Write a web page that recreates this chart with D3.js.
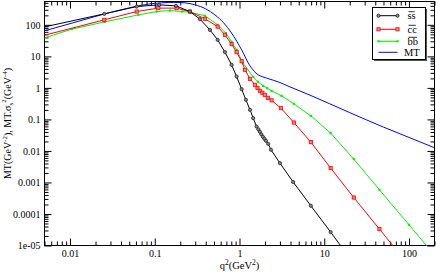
<!DOCTYPE html>
<html>
<head>
<meta charset="utf-8">
<script src="https://cdn.jsdelivr.net/npm/d3@7"></script>
<style>
  body { margin: 0; background: #fff; }
  svg { display: block; }
</style>
</head>
<body>
<div id="chart"></div>
<script>
// data (q^2 in GeV^2)
const qSS = [0.004, 0.0254, 0.0612, 0.113, 0.178, 0.26, 0.341, 0.448, 0.552, 0.673, 0.807, 0.924, 1.06, 1.19, 1.33, 1.45, 1.59, 1.67, 1.74, 1.81, 1.89, 1.97, 2.05, 2.18, 2.35, 3.0, 4.3, 6.95, 11.9, 20];
const ssVals = [75.5, 223, 380, 431, 400, 264, 152, 69, 33.4, 13.6, 5.39, 2.29, 0.913, 0.418, 0.201, 0.110, 0.0595, 0.0485, 0.0404, 0.0337, 0.028, 0.0242, 0.021, 0.0168, 0.0109, 0.0041, 0.00103, 1.82e-4, 2.66e-5, 4e-6];

const qCC = [0.004, 0.0254, 0.0612, 0.110, 0.181, 0.26, 0.39, 0.552, 0.673, 0.807, 0.924, 1.06, 1.16, 1.33, 1.52, 1.63, 1.74, 1.86, 1.99, 2.16, 2.39, 3.08, 4.38, 6.95, 11.9, 22.3, 44.8, 100];
const ccVals = [40.1, 144, 264, 339, 339, 264, 155, 88, 48.2, 24.4, 13.6, 7.0, 3.74, 1.94, 1.25, 1.0, 0.807, 0.70, 0.602, 0.484, 0.403, 0.228, 0.0796, 0.019, 0.00285, 3.33e-4, 3.32e-5, 2.3e-6];

const qBB = [0.004, 0.0105, 0.0256, 0.064, 0.105, 0.151, 0.211, 0.26, 0.39, 0.552, 0.691, 0.807, 0.924, 1.10, 1.45, 1.65, 1.90, 2.13, 2.39, 3.14, 4.38, 6.95, 11.9, 22.3, 44.8, 100, 200];
const bbVals = [31.9, 73, 124, 207, 264, 284, 264, 249, 195, 100, 54.5, 28.9, 16.1, 6.1, 2.24, 1.56, 1.16, 0.97, 0.807, 0.56, 0.312, 0.13, 0.0367, 0.0055, 5.85e-4, 4.54e-5, 5e-6];

const qMT = [0.004, 0.01, 0.0197, 0.05, 0.0838, 0.12, 0.173, 0.227, 0.298, 0.4, 0.513, 0.65, 0.807, 1.06, 1.33, 1.66, 1.85, 2.09, 3.0, 3.93, 6.77, 20, 50, 100, 200];
const mtVals = [54.6, 109, 183, 346, 454, 500, 515, 499, 431, 321, 207, 116, 54.6, 16.1, 5.0, 2.6, 2.28, 2.04, 1.48, 1.08, 0.59, 0.164, 0.057, 0.0268, 0.0126];

const xMajor = [0.01, 0.1, 1, 10, 100];
const xTickLabels = ['0.01', '0.1', '1', '10', '100'];
const yMajor = [1e-5, 1e-4, 1e-3, 1e-2, 0.1, 1, 10, 100];
const yTickLabels = ['1e-05', '0.0001', '0.001', '0.01', '0.1', '1', '10', '100'];

// ***** setup *****
const width = 436, height = 273;
const x = d3.scaleLog().domain([0.005, 200]).range([44.5, 434.5]);
const y = d3.scaleLog().domain([1e-5, 550]).range([245.5, 1.5]);
const font = 'Liberation Serif, Times New Roman, serif';

const minors = (dom) => {
  const out = [];
  for (let e = -6; e <= 3; e++) {
    for (let k = 2; k <= 9; k++) {
      const v = k * Math.pow(10, e);
      if (v >= dom[0] * 0.999 && v <= dom[1] * 1.001) out.push(v);
    }
  }
  return out;
};

const svg = d3.select('#chart').append('svg')
  .attr('width', width)
  .attr('height', height);

svg.append('clipPath').attr('id', 'plot-clip')
  .append('rect')
  .attr('x', 44.5).attr('y', 1.5)
  .attr('width', 390).attr('height', 244);

// axes, ticks inward on all four sides
const axisG = svg.append('g').attr('class', 'axes');
const addAxis = (gen, tx, ty, vals, size, labels) => {
  const a = gen.tickValues(vals).tickSize(size).tickSizeOuter(0).tickPadding(4)
    .tickFormat(labels ? (d, i) => labels[i] : '');
  const g = axisG.append('g').attr('transform', `translate(${tx},${ty})`).call(a);
  g.select('.domain').remove();
  g.attr('font-family', font).attr('font-size', 10);
  g.selectAll('text').attr('fill', '#000');
  return g;
};
addAxis(d3.axisBottom(x), 0, 245.5, xMajor, -7, xTickLabels);
addAxis(d3.axisBottom(x), 0, 245.5, minors(x.domain()), -4, null);
addAxis(d3.axisTop(x), 0, 1.5, xMajor, -7, null);
addAxis(d3.axisTop(x), 0, 1.5, minors(x.domain()), -4, null);
addAxis(d3.axisLeft(y), 44.5, 0, yMajor, -7, yTickLabels);
addAxis(d3.axisLeft(y), 44.5, 0, minors(y.domain()), -4, null);
addAxis(d3.axisRight(y), 434.5, 0, yMajor, -7, null);
addAxis(d3.axisRight(y), 434.5, 0, minors(y.domain()), -4, null);

svg.append('rect')
  .attr('x', 44.5).attr('y', 1.5)
  .attr('width', 390).attr('height', 244)
  .attr('fill', 'none').attr('stroke', '#000').attr('stroke-width', 1);

// series
const series = [
  { name: 'ss', q: qSS, v: ssVals, color: '#000000', sym: 'circle', bar: true },
  { name: 'cc', q: qCC, v: ccVals, color: '#ff0000', sym: 'square', bar: true },
  { name: 'bb', q: qBB, v: bbVals, color: '#00ee00', sym: 'dot', bar: true },
  { name: 'MT', q: qMT, v: mtVals, color: '#0000ff', sym: null, bar: false }
];

const plot = svg.append('g').attr('clip-path', 'url(#plot-clip)');

const drawSym = (g, s, cx, cy) => {
  if (s.sym === 'circle') {
    g.append('circle').attr('cx', cx).attr('cy', cy).attr('r', 1.6)
      .attr('fill', '#888').attr('stroke', '#222').attr('stroke-width', 0.8);
  } else if (s.sym === 'square') {
    g.append('rect').attr('x', cx - 1.6).attr('y', cy - 1.6).attr('width', 3.2).attr('height', 3.2)
      .attr('fill', '#ff8080').attr('stroke', s.color).attr('stroke-width', 0.8);
  } else if (s.sym === 'dot') {
    g.append('rect').attr('x', cx - 1.1).attr('y', cy - 1.1).attr('width', 2.2).attr('height', 2.2)
      .attr('fill', s.color);
  }
};

// draw MT first so symbols sit on top
series.slice().reverse().forEach((s) => {
  const pts = s.q.map((q, i) => [q, s.v[i]]);
  const line = d3.line()
    .x((d) => x(d[0]))
    .y((d) => y(d[1]))
    .curve(s.sym ? d3.curveLinear : d3.curveMonotoneX);
  plot.append('path')
    .datum(pts)
    .attr('d', line)
    .attr('fill', 'none')
    .attr('stroke', s.color)
    .attr('stroke-width', 1);
  if (s.sym) {
    const sg = plot.append('g');
    pts.forEach((d) => drawSym(sg, s, x(d[0]), y(d[1])));
  }
});

// legend
const lg = svg.append('g').attr('class', 'legend');
lg.append('rect').attr('x', 374).attr('y', 9).attr('width', 53).attr('height', 52).attr('fill', '#555');
lg.append('rect').attr('x', 372.5).attr('y', 7.5).attr('width', 53).attr('height', 52)
  .attr('fill', '#fff').attr('stroke', '#000').attr('stroke-width', 1);
const legY = [15.7, 29.3, 41.3, 52.3];
series.forEach((s, i) => {
  const ly = legY[i];
  lg.append('line').attr('x1', 378.5).attr('x2', 397.5).attr('y1', ly).attr('y2', ly)
    .attr('stroke', s.color).attr('stroke-width', 1);
  if (s.sym) { drawSym(lg, s, 378.5, ly); drawSym(lg, s, 397.5, ly); }
  const tx = s.bar ? 407.5 : 404;
  const t = lg.append('text').attr('x', tx).attr('y', ly + 3.5)
    .attr('font-family', font).attr('font-size', 10.5).attr('fill', '#000')
    .text(s.name);
  if (s.bar) {
    const len = t.node().getComputedTextLength();
    lg.append('line').attr('x1', tx + 1).attr('x2', tx + len - 1)
      .attr('y1', ly - 4).attr('y2', ly - 4)
      .attr('stroke', '#000').attr('stroke-width', 0.8);
  }
});

// axis titles
const xt = svg.append('text').attr('x', 239.5).attr('y', 268.5)
  .attr('text-anchor', 'middle').attr('font-family', font).attr('font-size', 10.5).attr('fill', '#000');
xt.append('tspan').text('q');
xt.append('tspan').attr('dy', -4).attr('font-size', 7.5).text('2');
xt.append('tspan').attr('dy', 4).text('(GeV');
xt.append('tspan').attr('dy', -4).attr('font-size', 7.5).text('2');
xt.append('tspan').attr('dy', 4).text(')');

const yt = svg.append('text').attr('transform', 'translate(11,123.5) rotate(-90)')
  .attr('text-anchor', 'middle').attr('font-family', font).attr('font-size', 10).attr('fill', '#000');
yt.append('tspan').text('MT(GeV');
yt.append('tspan').attr('dy', -4).attr('font-size', 7).text('-2');
yt.append('tspan').attr('dy', 4).text('), MT.σ');
yt.append('tspan').attr('dy', 2).attr('font-size', 7).text('s');
yt.append('tspan').attr('dy', -7).attr('font-size', 7).text('2');
yt.append('tspan').attr('dy', 5).text('(GeV');
yt.append('tspan').attr('dy', -4).attr('font-size', 7).text('-4');
yt.append('tspan').attr('dy', 4).text(')');
</script>
</body>
</html>
